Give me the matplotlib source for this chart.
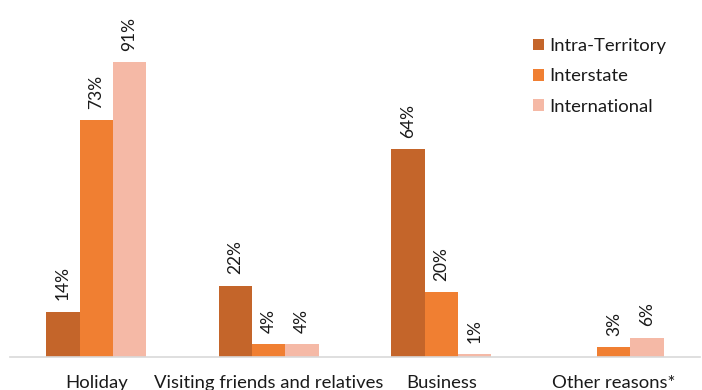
import matplotlib
matplotlib.use("Agg")
import matplotlib.pyplot as plt
import numpy as np

categories = ["Holiday", "Visiting friends and relatives", "Business", "Other reasons*"]
series_names = ["Intra-Territory", "Interstate", "International"]
intra = [14, 22, 64, None]
inter = [73, 4, 20, 3]
intl = [91, 4, 1, 6]
colors = ["#C4652A", "#F07F32", "#F5B9A6"]

plt.rcParams['font.family'] = ['Lato', 'DejaVu Sans']

fig = plt.figure(figsize=(7.02, 3.9), dpi=100)
ax = fig.add_axes([0.0143, 0.0846, 0.983, 0.9154])

x = np.arange(len(categories))
w = 0.193
for i, (vals, c, name) in enumerate(zip([intra, inter, intl], colors, series_names)):
    pos = x + (i - 1) * w
    hv = [v if v is not None else 0 for v in vals]
    ax.bar(pos, hv, width=w, color=c, label=name, linewidth=0)
    for p, v in zip(pos, vals):
        if v is None:
            continue
        ax.annotate(f"{v}%", (p, v), xytext=(0, 8), textcoords="offset points",
                    rotation=90, ha="center", va="bottom", fontsize=12.5, color="#1a1a1a")

ax.set_xlim(-0.5, 3.5)
ax.set_ylim(0, 110)
ax.set_xticks(x)
ax.set_xticklabels(categories, fontsize=13.3, color="#1a1a1a")
ax.tick_params(axis='x', length=0, pad=13)
ax.set_yticks([])
for s in ["top", "right", "left"]:
    ax.spines[s].set_visible(False)
ax.spines["bottom"].set_color("#D9D9D9")
ax.spines["bottom"].set_linewidth(1.2)

leg = ax.legend(loc="upper left", bbox_to_anchor=(0.734, 0.94), frameon=False,
                fontsize=13.3, handlelength=0.6, handleheight=0.6, handletextpad=0.25,
                labelspacing=0.78)
for t in leg.get_texts():
    t.set_color("#1a1a1a")

fig.savefig("out.png", dpi=100)
